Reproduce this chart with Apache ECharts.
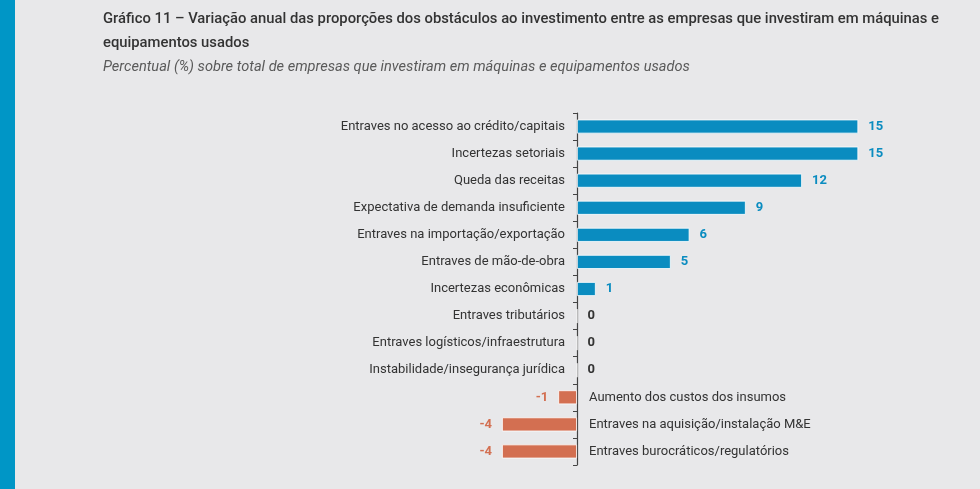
<!DOCTYPE html>
<html>
<head>
<meta charset="utf-8">
<script src="https://cdn.jsdelivr.net/npm/echarts@6/dist/echarts.min.js"></script>
<style>
  html, body { margin: 0; padding: 0; background: #e8e8ea; }
  #chart { width: 980px; height: 489px; }
</style>
</head>
<body>
<div id="chart"></div>
<script>
// Obstacle categories, top to bottom as in the picture
const categories = [
    'Entraves no acesso ao crédito/capitais',
    'Incertezas setoriais',
    'Queda das receitas',
    'Expectativa de demanda insuficiente',
    'Entraves na importação/exportação',
    'Entraves de mão-de-obra',
    'Incertezas econômicas',
    'Entraves tributários',
    'Entraves logísticos/infraestrutura',
    'Instabilidade/insegurança jurídica',
    'Aumento dos custos dos insumos',
    'Entraves na aquisição/instalação M&E',
    'Entraves burocráticos/regulatórios'
];

// Annual change, percentage points
const values = [15, 15, 12, 9, 6, 5, 1, 0, 0, 0, -1, -4, -4];

const titleLines = [
    'Gráfico 11 – Variação anual das proporções dos obstáculos ao investimento entre as empresas que investiram em máquinas e',
    'equipamentos usados'
];
const subtitle = 'Percentual (%) sobre total de empresas que investiram em máquinas e equipamentos usados';

const POS_COLOR = '#0a8cc0';
const NEG_COLOR = '#d36f51';
const TEXT_COLOR = '#333333';
const FONT = 'Roboto';

document.addEventListener('DOMContentLoaded', function() {
    const chart = echarts.init(document.getElementById('chart'));

    const X_MIN = -6;
    const GRID_LEFT = 464.5;
    const PX_PER_UNIT = 18.75;
    // shift the category axes from the grid edge onto the zero line
    const zeroOffset = X_MIN * PX_PER_UNIT;

    // names left of the axis for >= 0, right of it for negatives
    const leftNames = categories.map((c, i) => values[i] < 0 ? '' : c);
    const rightNames = categories.map((c, i) => values[i] < 0 ? c : '');

    const barData = values.map(v => {
        let color = v < 0 ? NEG_COLOR : (v > 0 ? POS_COLOR : TEXT_COLOR);
        return {
            value: v,
            itemStyle: { color: v < 0 ? NEG_COLOR : POS_COLOR },
            label: {
                position: v < 0 ? 'left' : 'right',
                color: color
            }
        };
    });

    const option = {
        backgroundColor: '#e8e8ea',
        textStyle: { fontFamily: FONT },
        graphic: [
            {
                type: 'rect',
                left: 0, top: 0,
                shape: { width: 15, height: 489 },
                style: { fill: '#0096c6' }
            },
            {
                type: 'text',
                left: 103, top: 7,
                style: {
                    text: titleLines.join('\n'),
                    font: '500 14.8px ' + FONT,
                    lineHeight: 24,
                    fill: '#333333'
                }
            },
            {
                type: 'text',
                left: 103, top: 60,
                style: {
                    text: subtitle,
                    font: 'italic 14.6px ' + FONT,
                    fill: '#5a5a5a'
                }
            }
        ],
        grid: {
            left: GRID_LEFT,
            right: 103,
            top: 113,
            bottom: 24
        },
        xAxis: {
            type: 'value',
            min: X_MIN,
            max: 16,
            show: false
        },
        yAxis: [
            {
                type: 'category',
                data: leftNames,
                inverse: true,
                offset: zeroOffset,
                axisLine: { onZero: false, lineStyle: { color: '#444', width: 1.2 } },
                axisTick: { show: true, length: 4, lineStyle: { color: '#444' } },
                axisLabel: {
                    color: TEXT_COLOR,
                    fontSize: 13,
                    fontFamily: FONT,
                    margin: 12
                }
            },
            {
                type: 'category',
                data: rightNames,
                inverse: true,
                position: 'left',
                offset: zeroOffset,
                axisLine: { show: false, onZero: false },
                axisTick: { show: false },
                axisLabel: {
                    inside: true,
                    color: TEXT_COLOR,
                    fontSize: 13,
                    fontFamily: FONT,
                    margin: 12
                }
            }
        ],
        series: [
            {
                type: 'bar',
                data: barData,
                barWidth: 14,
                itemStyle: { borderColor: '#ffffff', borderWidth: 0.8 },
                label: {
                    show: true,
                    fontWeight: 'bold',
                    fontSize: 13,
                    distance: 10,
                    fontFamily: FONT
                },
                animation: false
            }
        ]
    };

    chart.setOption(option);
});
</script>
</body>
</html>
